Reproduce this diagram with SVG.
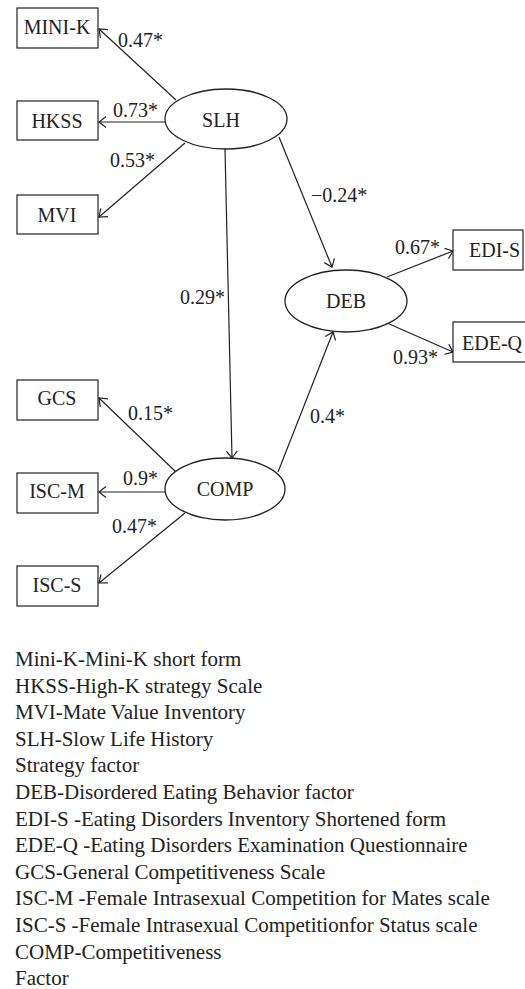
<svg xmlns="http://www.w3.org/2000/svg" width="525" height="989" viewBox="0 0 525 989">
<defs>
<marker id="ah" viewBox="0 0 10 12" refX="8" refY="6" markerWidth="10" markerHeight="12" markerUnits="userSpaceOnUse" orient="auto">
<path d="M1,0.5 L8,6 L1,11.5" fill="none" stroke="#222" stroke-width="1.2"/>
</marker>
<style>
.box{fill:#fff;stroke:#222;stroke-width:1.2}
.ell{fill:#fff;stroke:#222;stroke-width:1.3}
.t{font-family:"Liberation Serif","Times New Roman",serif;font-size:20px;fill:#222}
.c{text-anchor:middle}
.e{fill:none;stroke:#222;stroke-width:1.2;marker-end:url(#ah)}
.lg{font-family:"Liberation Serif","Times New Roman",serif;font-size:21px;fill:#222}
</style>
</defs>
<g id="connectors" font-family="Liberation Serif, serif">
<line class="e" x1="176" y1="100" x2="99" y2="29"/>
<line class="e" x1="165" y1="122" x2="99" y2="122"/>
<line class="e" x1="185" y1="143" x2="99" y2="217"/>
<line class="e" x1="225" y1="149" x2="232" y2="458"/>
<line class="e" x1="279" y1="137" x2="332" y2="267"/>
<line class="e" x1="387" y1="277" x2="453" y2="251"/>
<line class="e" x1="387" y1="323" x2="453" y2="352"/>
<line class="e" x1="176" y1="472" x2="99" y2="398"/>
<line class="e" x1="165" y1="492" x2="99" y2="492"/>
<line class="e" x1="185" y1="513" x2="99" y2="583"/>
<line class="e" x1="278" y1="472" x2="333" y2="332"/>
<text class="t" x="118" y="47">0.47*</text>
<text class="t" x="113" y="117">0.73*</text>
<text class="t" x="110" y="167">0.53*</text>
<text class="t" x="311" y="202">−0.24*</text>
<text class="t" x="180" y="304">0.29*</text>
<text class="t" x="395" y="254">0.67*</text>
<text class="t" x="393" y="364">0.93*</text>
<text class="t" x="128" y="420">0.15*</text>
<text class="t" x="123" y="485">0.9*</text>
<text class="t" x="112" y="533">0.47*</text>
<text class="t" x="310" y="423">0.4*</text>
</g>
<g id="MINI-K"><rect class="box" x="17" y="8" width="81" height="40"/><text class="t c" x="57" y="34">MINI-K</text></g>
<g id="HKSS"><rect class="box" x="17" y="101" width="81" height="39"/><text class="t c" x="57" y="128">HKSS</text></g>
<g id="MVI"><rect class="box" x="17" y="195" width="81" height="39"/><text class="t c" x="57" y="222">MVI</text></g>
<g id="SLH"><ellipse class="ell" cx="226" cy="119" rx="61" ry="30"/><text class="t c" x="221" y="127">SLH</text></g>
<g id="DEB"><ellipse class="ell" cx="346" cy="301" rx="61" ry="31"/><text class="t c" x="346" y="308">DEB</text></g>
<g id="EDI-S"><rect class="box" x="453" y="230" width="70" height="40"/><text class="t" x="469" y="257">EDI-S</text></g>
<g id="EDE-Q"><rect class="box" x="453" y="322" width="80" height="40"/><text class="t" x="462" y="350">EDE-Q</text></g>
<g id="GCS"><rect class="box" x="17" y="380" width="81" height="40"/><text class="t c" x="57" y="405">GCS</text></g>
<g id="ISC-M"><rect class="box" x="17" y="473" width="81" height="40"/><text class="t c" x="57" y="498">ISC-M</text></g>
<g id="ISC-S"><rect class="box" x="17" y="566" width="81" height="40"/><text class="t c" x="57" y="592">ISC-S</text></g>
<g id="COMP"><ellipse class="ell" cx="225" cy="489" rx="60" ry="31"/><text class="t c" x="225" y="496">COMP</text></g>
<g id="legend">
<text class="lg" x="15" y="666">Mini-K-Mini-K short form</text>
<text class="lg" x="15" y="692.6">HKSS-High-K strategy Scale</text>
<text class="lg" x="15" y="719.2">MVI-Mate Value Inventory</text>
<text class="lg" x="15" y="745.8">SLH-Slow Life History</text>
<text class="lg" x="15" y="772.4">Strategy factor</text>
<text class="lg" x="15" y="799">DEB-Disordered Eating Behavior factor</text>
<text class="lg" x="15" y="825.6">EDI-S -Eating Disorders Inventory Shortened form</text>
<text class="lg" x="15" y="852.2">EDE-Q -Eating Disorders Examination Questionnaire</text>
<text class="lg" x="15" y="878.8">GCS-General Competitiveness Scale</text>
<text class="lg" x="15" y="905.4">ISC-M -Female Intrasexual Competition for Mates scale</text>
<text class="lg" x="15" y="932">ISC-S -Female Intrasexual Competitionfor Status scale</text>
<text class="lg" x="15" y="958.6">COMP-Competitiveness</text>
<text class="lg" x="15" y="985.2">Factor</text>
</g>
</svg>
